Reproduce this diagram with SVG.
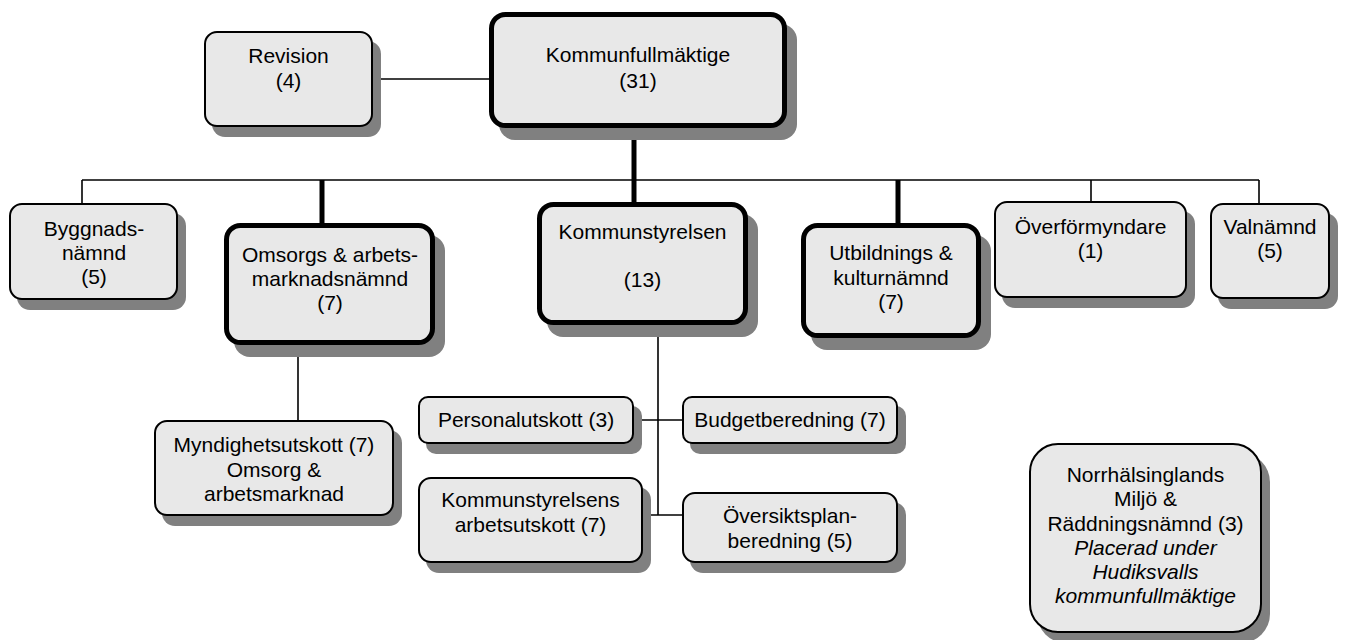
<svg xmlns="http://www.w3.org/2000/svg" width="1346" height="640" viewBox="0 0 1346 640">
<style>
.sh{fill:#808080}
.b{fill:#e8e8e8;stroke:#000;stroke-width:2}
.bt{fill:#e8e8e8;stroke:#000;stroke-width:5}
.t{font-family:"Liberation Sans",Arial,sans-serif;font-size:21px;text-anchor:middle;fill:#000}
.i{font-style:italic}
.c{stroke:#000;stroke-width:1.6;fill:none}
.ct{stroke:#000;stroke-width:5;fill:none}
</style>
<rect width="1346" height="640" fill="#fff"/>
<g id="connectors">
<line class="c" x1="373" y1="79" x2="489" y2="79"/>
<line class="c" x1="82" y1="180" x2="1259" y2="180"/>
<line class="c" x1="82" y1="180" x2="82" y2="203"/>
<line class="c" x1="1091" y1="180" x2="1091" y2="201"/>
<line class="c" x1="1259" y1="180" x2="1259" y2="203"/>
<line class="ct" x1="634" y1="128" x2="634" y2="203"/>
<line class="ct" x1="322" y1="180" x2="322" y2="224"/>
<line class="ct" x1="898" y1="180" x2="898" y2="224"/>
<line class="c" x1="298" y1="343" x2="298" y2="420"/>
<line class="c" x1="658" y1="323" x2="658" y2="515"/>
<line class="c" x1="634" y1="420" x2="682" y2="420"/>
<line class="c" x1="643" y1="515" x2="682" y2="515"/>
</g>
<g id="revision">
<rect class="sh" x="212" y="41" width="169" height="96" rx="13"/>
<rect class="b" x="205" y="32" width="167" height="94" rx="12"/>
<text class="t" x="288.5" y="63">Revision</text>
<text class="t" x="288.5" y="88">(4)</text>
</g>
<g id="kommunfullmaktige">
<rect class="sh" x="499" y="24" width="298" height="116" rx="16"/>
<rect class="bt" x="491.5" y="14.5" width="293" height="111" rx="14"/>
<text class="t" x="638" y="62">Kommunfullmäktige</text>
<text class="t" x="638" y="88">(31)</text>
</g>
<g id="byggnadsnamnd">
<rect class="sh" x="17" y="213" width="169" height="97" rx="13"/>
<rect class="b" x="10" y="204" width="167" height="95" rx="12"/>
<text class="t" x="94" y="236">Byggnads-</text>
<text class="t" x="94" y="260">nämnd</text>
<text class="t" x="94" y="284">(5)</text>
</g>
<g id="omsorgsnamnd">
<rect class="sh" x="234" y="235" width="211" height="122" rx="16"/>
<rect class="bt" x="226.5" y="225.5" width="206" height="117" rx="14"/>
<text class="t" x="330" y="262">Omsorgs &amp; arbets-</text>
<text class="t" x="330" y="286">marknadsnämnd</text>
<text class="t" x="330" y="310">(7)</text>
</g>
<g id="kommunstyrelsen">
<rect class="sh" x="547" y="214" width="211" height="123" rx="16"/>
<rect class="bt" x="539.5" y="204.5" width="206" height="118" rx="14"/>
<text class="t" x="642.5" y="239">Kommunstyrelsen</text>
<text class="t" x="642.5" y="287">(13)</text>
</g>
<g id="utbildningsnamnd">
<rect class="sh" x="811" y="235" width="180" height="115" rx="16"/>
<rect class="bt" x="803.5" y="225.5" width="175" height="110" rx="14"/>
<text class="t" x="891" y="260">Utbildnings &amp;</text>
<text class="t" x="891" y="285">kulturnämnd</text>
<text class="t" x="891" y="309">(7)</text>
</g>
<g id="overformyndare">
<rect class="sh" x="1002" y="211" width="193" height="97" rx="13"/>
<rect class="b" x="995" y="202" width="191" height="95" rx="12"/>
<text class="t" x="1090.5" y="234">Överförmyndare</text>
<text class="t" x="1090.5" y="258">(1)</text>
</g>
<g id="valnamnd">
<rect class="sh" x="1218" y="213" width="120" height="96" rx="13"/>
<rect class="b" x="1211" y="204" width="118" height="94" rx="12"/>
<text class="t" x="1270" y="234">Valnämnd</text>
<text class="t" x="1270" y="258">(5)</text>
</g>
<g id="myndighetsutskott">
<rect class="sh" x="162" y="430" width="240" height="96" rx="13"/>
<rect class="b" x="155" y="421" width="238" height="94" rx="12"/>
<text class="t" x="274" y="452">Myndighetsutskott (7)</text>
<text class="t" x="274" y="477">Omsorg &amp;</text>
<text class="t" x="274" y="501">arbetsmarknad</text>
</g>
<g id="personalutskott">
<rect class="sh" x="426" y="406" width="216" height="48" rx="10"/>
<rect class="b" x="419" y="397" width="214" height="46" rx="9"/>
<text class="t" x="526" y="427">Personalutskott (3)</text>
</g>
<g id="budgetberedning">
<rect class="sh" x="690" y="406" width="216" height="48" rx="10"/>
<rect class="b" x="683" y="397" width="214" height="46" rx="9"/>
<text class="t" x="790" y="427">Budgetberedning (7)</text>
</g>
<g id="ks-arbetsutskott">
<rect class="sh" x="426" y="487" width="225" height="86" rx="13"/>
<rect class="b" x="419" y="478" width="223" height="84" rx="12"/>
<text class="t" x="530.5" y="507">Kommunstyrelsens</text>
<text class="t" x="530.5" y="532">arbetsutskott (7)</text>
</g>
<g id="oversiktsplanberedning">
<rect class="sh" x="690" y="502" width="216" height="71" rx="13"/>
<rect class="b" x="683" y="493" width="214" height="69" rx="12"/>
<text class="t" x="790" y="523">Översiktsplan-</text>
<text class="t" x="790" y="548">beredning (5)</text>
</g>
<g id="norrhalsinglands">
<rect class="sh" x="1037" y="453" width="233" height="190" rx="29"/>
<rect class="b" x="1030" y="444" width="231" height="188" rx="28"/>
<text class="t" x="1145.5" y="482">Norrhälsinglands</text>
<text class="t" x="1145.5" y="506">Miljö &amp;</text>
<text class="t" x="1145.5" y="531">Räddningsnämnd (3)</text>
<text class="t i" x="1145.5" y="555">Placerad under</text>
<text class="t i" x="1145.5" y="579">Hudiksvalls</text>
<text class="t i" x="1145.5" y="603">kommunfullmäktige</text>
</g>
</svg>
